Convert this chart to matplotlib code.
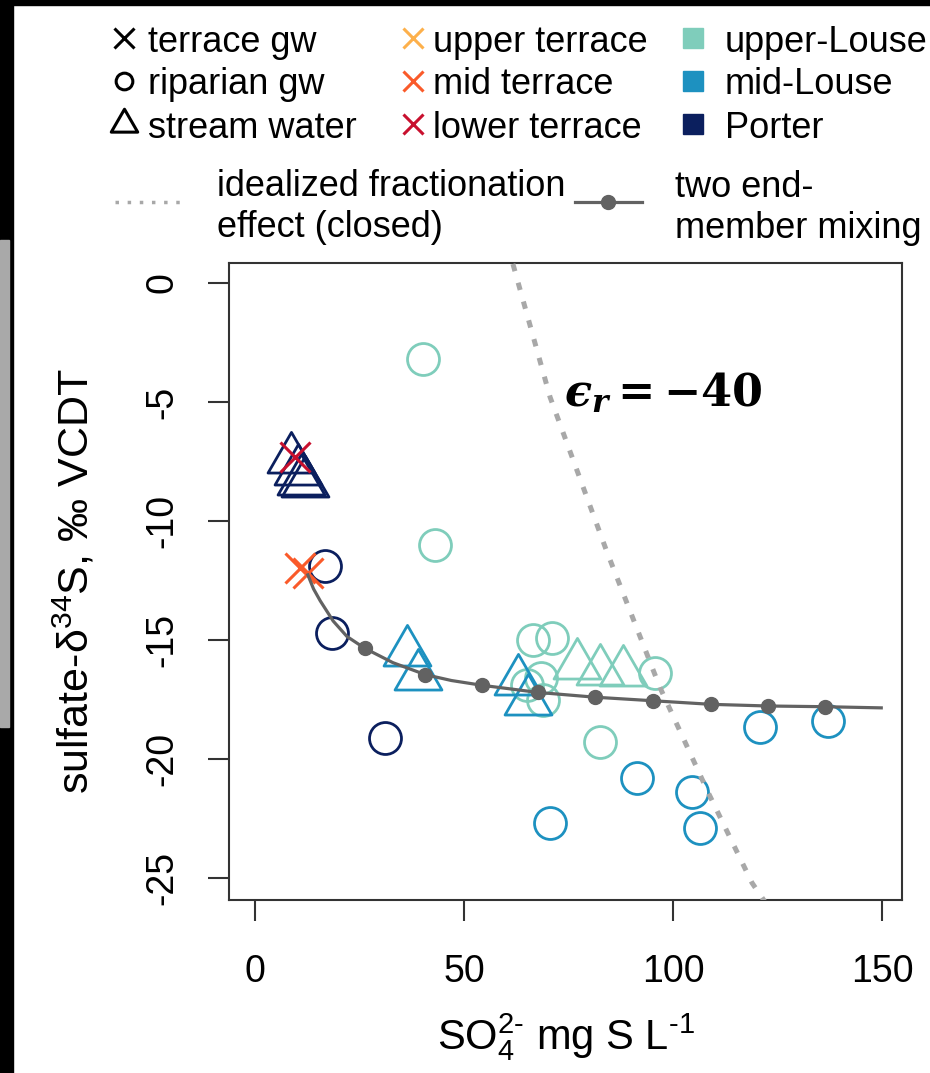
import matplotlib
matplotlib.use("Agg")
import matplotlib.pyplot as plt
from matplotlib.path import Path
from matplotlib.patches import Rectangle

plt.rcParams["font.family"] = ["Liberation Sans", "DejaVu Sans"]
plt.rcParams["mathtext.fontset"] = "custom"
plt.rcParams["mathtext.rm"] = "Liberation Sans"
plt.rcParams["mathtext.it"] = "Liberation Sans:italic"

# ---------------- data ----------------
# Porter
porter_tri_x = [8.6, 10.2, 11.0, 12.0]
porter_tri_y = [-7.4, -7.9, -8.3, -8.4]
porter_circ_x = [16.7, 18.4, 31.1]
porter_circ_y = [-11.9, -14.7, -19.1]

# upper-Louse
upper_circ_x = [40.2, 43.1, 66.5, 71.1, 65.0, 68.5, 68.8, 82.5, 95.7]
upper_circ_y = [-3.2, -11.0, -15.0, -14.9, -16.9, -16.6, -17.5, -19.3, -16.4]
upper_tri_x = [77.0, 82.5, 88.0]
upper_tri_y = [-16.05, -16.3, -16.35]

# mid-Louse
mid_tri_x = [36.4, 39.0, 62.9, 65.3]
mid_tri_y = [-15.5, -16.5, -16.7, -17.56]
mid_circ_x = [70.6, 91.4, 104.5, 106.5, 120.8, 137.1]
mid_circ_y = [-22.7, -20.8, -21.4, -22.9, -18.65, -18.4]

# terrace groundwater
lower_terr_x = [9.6]
lower_terr_y = [-7.3]
mid_terr_x = [10.8, 12.7]
mid_terr_y = [-11.97, -12.2]

# two end-member mixing curve and its marked steps
mix_x = [12.5, 14.0, 15.6, 18.7, 22.0, 26.3, 33.0, 40.7, 47.0, 54.3, 61.0,
         67.7, 81.3, 95.2, 109.1, 122.7, 136.4, 150.2]
mix_y = [-12.2, -12.85, -13.35, -14.2, -14.85, -15.35, -15.95, -16.45, -16.7,
         -16.9, -17.05, -17.2, -17.4, -17.55, -17.7, -17.77, -17.8, -17.85]
mix_marked = [5, 7, 9, 11, 12, 13, 14, 15, 16]

# idealized closed-system fractionation
frac_x = [61.7, 70.6, 84.2, 96.9, 108.4, 118.9, 122.0]
frac_y = [0.8, -4.8, -11.3, -17.0, -21.4, -25.2, -26.0]

x_ticks = [0, 50, 100, 150]
y_ticks = [0, -5, -10, -15, -20, -25]

# ---------------- styles ----------------
C_UPPER_L = "#7FCDBB"
C_MID_L = "#1D91C0"
C_PORTER = "#0B1F5E"
C_UP_T = "#FDB04B"
C_MID_T = "#FA5A2A"
C_LOW_T = "#C8102E"
C_MIX = "#626262"
C_FRAC = "#A8A8A8"

TRI = Path([(0, 1), (0.866, -0.5), (-0.866, -0.5), (0, 1)],
           [Path.MOVETO, Path.LINETO, Path.LINETO, Path.CLOSEPOLY])

W, H = 930, 1073
fig = plt.figure(figsize=(W / 100, H / 100), dpi=100)
fig.patch.set_facecolor("white")

L, R, T, B = 229, 902, 263, 900
ax = fig.add_axes([L / W, 1 - B / H, (R - L) / W, (B - T) / H])
ax.set_xlim(-6.22, 154.78)
ax.set_ylim(-25.92, 0.84)

circ_kw = dict(marker="o", ms=23, mfc="none", mew=2.0, ls="none")
tri_kw = dict(marker=TRI, ms=39, mfc="none", mew=2.0, ls="none")
x_kw = dict(marker="x", ms=21, mew=2.2, ls="none")

ax.plot(upper_circ_x, upper_circ_y, color=C_UPPER_L, zorder=3, **circ_kw)
ax.plot(upper_tri_x, upper_tri_y, color=C_UPPER_L, zorder=3, **tri_kw)
ax.plot(mid_circ_x, mid_circ_y, color=C_MID_L, zorder=3, **circ_kw)
ax.plot(mid_tri_x, mid_tri_y, color=C_MID_L, zorder=3, **tri_kw)
ax.plot(porter_circ_x, porter_circ_y, color=C_PORTER, zorder=3, **circ_kw)
ax.plot(porter_tri_x, porter_tri_y, color=C_PORTER, zorder=3, **tri_kw)
ax.plot(lower_terr_x, lower_terr_y, color=C_LOW_T, zorder=4, **x_kw)
ax.plot(mid_terr_x, mid_terr_y, color=C_MID_T, zorder=4, **x_kw)

ax.plot(mix_x, mix_y, color=C_MIX, lw=2.3, marker="o", ms=10,
        markevery=mix_marked, zorder=5, solid_capstyle="butt")
ax.plot(frac_x, frac_y, color=C_FRAC, lw=3.6, ls=(0, (1.5, 2.4)),
        zorder=6, clip_on=True)

ax.text(74.0, -4.6, r"$\mathbfit{ϵ}_{\mathbfit{r}}\mathbf{=-40}$",
        fontsize=32, ha="left", va="center", zorder=7,
        math_fontfamily="dejavuserif")

ax.set_xticks(x_ticks)
ax.set_yticks(y_ticks)
ax.set_xticklabels([str(v) for v in x_ticks])
ax.set_yticklabels([str(v) for v in y_ticks], rotation=90, va="center")
ax.tick_params(axis="both", length=15, width=1.5, color="#333333",
               labelsize=27, labelcolor="black")
ax.tick_params(axis="x", pad=24)
ax.tick_params(axis="y", pad=20)
for s in ax.spines.values():
    s.set_color("#333333")
    s.set_linewidth(1.5)

ax.set_xlabel(r"SO$_4^{2\text{-}}$ mg S L$^{\text{-}1}$", fontsize=30, labelpad=15)
ax.set_ylabel(r"sulfate-δ$^{34}$S, ‰ VCDT", fontsize=31, labelpad=34)

# ---------------- legend ----------------
lax = fig.add_axes([0, 0, 1, 1], zorder=-1)
lax.set_xlim(0, W)
lax.set_ylim(H, 0)
lax.axis("off")

rows = [38, 81, 124]
col_marker = [124, 413, 693]
col_text = [148, 433, 725]
fs_leg = 26

entries = [
    [("x", "black", "terrace gw"), ("o", "black", "riparian gw"), ("tri", "black", "stream water")],
    [("x", C_UP_T, "upper terrace"), ("x", C_MID_T, "mid terrace"), ("x", C_LOW_T, "lower terrace")],
    [("s", C_UPPER_L, "upper-Louse"), ("s", C_MID_L, "mid-Louse"), ("s", C_PORTER, "Porter")],
]
for ci, col in enumerate(entries):
    for ri, (mk, colr, lab) in enumerate(col):
        xm, ym = col_marker[ci], rows[ri]
        if mk == "x":
            lax.plot([xm], [ym], marker="x", ms=15, mew=2.2, color=colr, ls="none")
        elif mk == "o":
            lax.plot([xm], [ym], marker="o", ms=12, mew=2.2, mfc="none", color=colr, ls="none")
        elif mk == "tri":
            lax.plot([xm], [ym], marker=TRI, ms=22, mew=2.2, mfc="none", color=colr, ls="none")
        else:
            lax.plot([xm], [ym], marker="s", ms=14, color=colr, ls="none")
        lax.text(col_text[ci], ym, lab, fontsize=fs_leg, ha="left", va="center_baseline")

lax.plot([115, 182], [202, 202], color=C_FRAC, lw=2.5, ls=(0, (1.0, 2.5)))
lax.text(217, 207, "idealized fractionation\neffect (closed)", fontsize=fs_leg,
         ha="left", va="center", linespacing=1.2)
lax.plot([575, 642], [202, 202], color=C_MIX, lw=2.3)
lax.plot([608], [202], marker="o", ms=10, color=C_MIX)
lax.text(675, 208, "two end-\nmember mixing", fontsize=fs_leg,
         ha="left", va="center", linespacing=1.2)

# frame strips along the left and top edges
lax.add_patch(Rectangle((0, 0), W, 5, color="black", zorder=10, clip_on=False))
lax.add_patch(Rectangle((0, 0), 13, H, color="black", zorder=10, clip_on=False))
lax.add_patch(Rectangle((0, 240), 9, 487, color="#A9A9A9", zorder=11, clip_on=False))

fig.savefig("out.png", dpi=100, facecolor="white")
